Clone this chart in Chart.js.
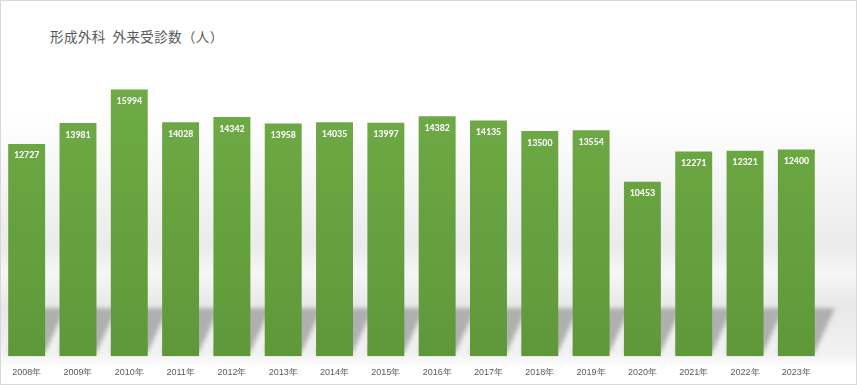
<!DOCTYPE html>
<html lang="ja">
<head>
  <meta charset="UTF-8">
  <title>形成外科 外来受診数</title>
  <style>
    html, body { margin: 0; padding: 0; }
    #wrap {
      position: relative;
      width: 855px; height: 383px;
      border: 1px solid #d9d9d9;
      background: linear-gradient(to bottom, #ffffff 0%, #ffffff 30%, #ebebeb 64%, #f6f6f6 71%, #e8e8e8 80%, #f2f2f2 92%, #ffffff 96%);
    }
    #title {
      position: absolute; left: 49px; top: 25px;
      font: 13.5px "Noto Sans CJK JP", sans-serif;
      color: #595959; letter-spacing: 0.4px;
    }
    canvas { position: absolute; left: 0; top: 0; }
  </style>
</head>
<body>
  <div id="wrap">
    <div id="title">形成外科&nbsp;&nbsp;外来受診数（人）</div>
    <canvas id="chart" width="855" height="383"></canvas>
  </div>
  <script src="https://cdn.jsdelivr.net/npm/chart.js"></script>
  <script>
    const years = ["2008年", "2009年", "2010年", "2011年", "2012年", "2013年", "2014年", "2015年",
                   "2016年", "2017年", "2018年", "2019年", "2020年", "2021年", "2022年", "2023年"];
    const visits = [12727, 13981, 15994, 14028, 14342, 13958, 14035, 13997,
                    14382, 14135, 13500, 13554, 10453, 12271, 12321, 12400];

    // shadows behind each bar on the "floor"
    const floorShadow = {
      id: "floorShadow",
      beforeDatasetsDraw(chart) {
        const ctx = chart.ctx;
        const bottom = chart.chartArea.bottom;
        ctx.save();
        ctx.filter = "blur(2px)";
        ctx.fillStyle = "rgba(150,150,150,0.7)";
        chart.getDatasetMeta(0).data.forEach((bar) => {
          const half = bar.width / 2;
          ctx.beginPath();
          ctx.moveTo(bar.x - half, bottom - 4);
          ctx.lineTo(bar.x + half, bottom - 4);
          ctx.lineTo(bar.x + half + 20, bottom - 48);
          ctx.lineTo(bar.x - half + 20, bottom - 48);
          ctx.closePath();
          ctx.fill();
        });
        ctx.restore();
      }
    };

    const valueLabels = {
      id: "valueLabels",
      afterDatasetsDraw(chart) {
        const ctx = chart.ctx;
        ctx.save();
        ctx.font = "bold 10px Calibri, 'Liberation Sans', sans-serif";
        ctx.fillStyle = "#ffffff";
        ctx.textAlign = "center";
        ctx.textBaseline = "middle";
        chart.getDatasetMeta(0).data.forEach((bar, i) => {
          ctx.fillText(visits[i], bar.x, bar.y + 12);
        });
        ctx.restore();
      }
    };

    new Chart(document.getElementById("chart"), {
      type: "bar",
      data: {
        labels: years,
        datasets: [{
          data: visits,
          backgroundColor: (c) => {
            const area = c.chart.chartArea;
            if (!area) return "#70ad47";
            const g = c.chart.ctx.createLinearGradient(0, area.top, 0, area.bottom);
            g.addColorStop(0, "#70ad47");
            g.addColorStop(1, "#5f9839");
            return g;
          },
          categoryPercentage: 1,
          barPercentage: 0.72,
        }],
      },
      options: {
        responsive: false,
        animation: false,
        layout: { padding: { left: 0, right: 34, top: 55, bottom: 3 } },
        plugins: { legend: { display: false }, tooltip: { enabled: false } },
        scales: {
          x: {
            grid: { display: false },
            border: { display: false },
            ticks: { color: "#595959", font: { size: 9, family: "'Liberation Sans', sans-serif" }, padding: 3, maxRotation: 0 },
          },
          y: { display: false, min: 0, max: 18000 },
        },
      },
      plugins: [floorShadow, valueLabels],
    });
  </script>
</body>
</html>
